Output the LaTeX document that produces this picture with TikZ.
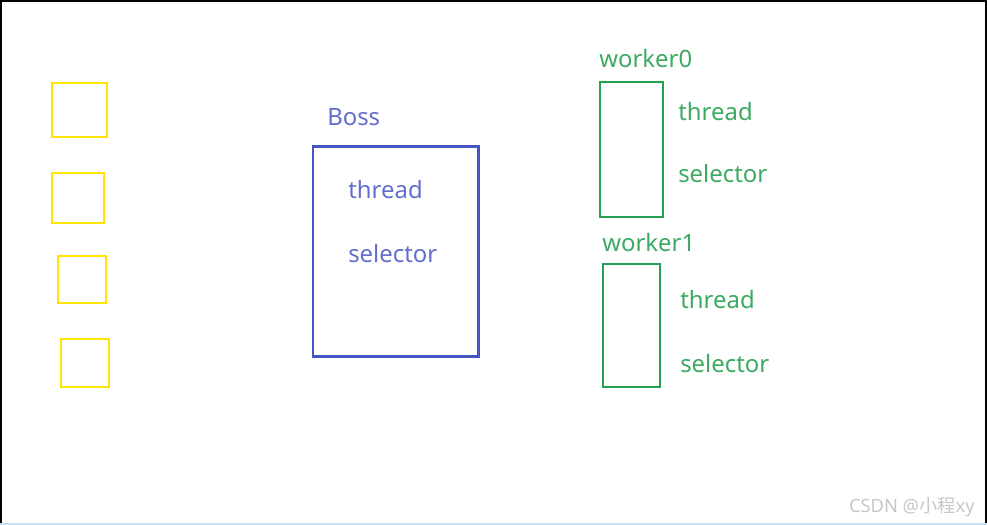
\documentclass[tikz,border=0pt]{standalone}
\usepackage{fontspec}
\setmainfont{Noto Sans}
\newfontfamily\cjk{Noto Sans CJK SC}
\usetikzlibrary{positioning}
\definecolor{boxyellow}{RGB}{255,228,0}
\definecolor{bossblue}{RGB}{70,84,196}
\definecolor{workgreen}{RGB}{38,160,80}
\definecolor{barblue}{RGB}{205,225,245}
\tikzset{
    ybox/.style = {rectangle, draw=boxyellow, line width=2.1pt, inner sep=0pt},
    bbox/.style = {rectangle, draw=bossblue, line width=2.1pt, inner sep=0pt, minimum width=4.125cm, minimum height=5.225cm},
    gbox/.style = {rectangle, draw=workgreen, line width=2.1pt, inner sep=0pt},
    btext/.style = {anchor=base west, inner sep=0pt, text=bossblue!85, font=\fontsize{17}{20}\selectfont},
    gtext/.style = {anchor=base west, inner sep=0pt, text=workgreen!90, font=\fontsize{17}{20}\selectfont},
    mark text/.style = {anchor=base east, inner sep=0pt, text=gray!45, font=\fontsize{13}{15}\selectfont}
}
\begin{document}
\begin{tikzpicture}[x=0.025cm,y=-0.025cm]
\useasboundingbox (0,0) rectangle (987,525);
%
\draw[line width=2pt] (0.5,525) -- (0.5,0.5) -- (986.5,0.5) -- (986.5,525);
\draw[barblue, line width=2pt] (0,524) -- (987,524);
%
\node[ybox, minimum width=1.375cm, minimum height=1.35cm] at (79.5,110) (sqa) {};
\node[ybox, minimum width=1.3cm, minimum height=1.25cm] at (78,198) (sqb) {};
\node[ybox, minimum width=1.2cm, minimum height=1.175cm] at (82,279.5) (sqc) {};
\node[ybox, minimum width=1.2cm, minimum height=1.2cm] at (85,363) (sqd) {};
%
\node[bbox] at (395.5,251.5) (boss) {};
\node[btext] at (327,126) (bossname) {Boss};
\node[btext] at (348,199) (bossthread) {thread};
\node[btext] at (348,263) (bossselector) {selector};
%
\node[gbox, minimum width=1.575cm, minimum height=3.375cm] at (631.5,149.5) (wzero) {};
\node[gtext] at (599,68) (wzeroname) {worker0};
\node[gtext] at (678,121) (wzerothread) {thread};
\node[gtext] at (678,183) (wzeroselector) {selector};
%
\node[gbox, minimum width=1.425cm, minimum height=3.075cm] at (631.5,325.5) (wone) {};
\node[gtext] at (602,252) (wonename) {worker1};
\node[gtext] at (680,308) (wonethread) {thread};
\node[gtext] at (680,372) (woneselector) {selector};
%
\node[mark text] at (975,512) (mark) {CSDN @{\cjk 小程}xy};
\end{tikzpicture}
\end{document}
